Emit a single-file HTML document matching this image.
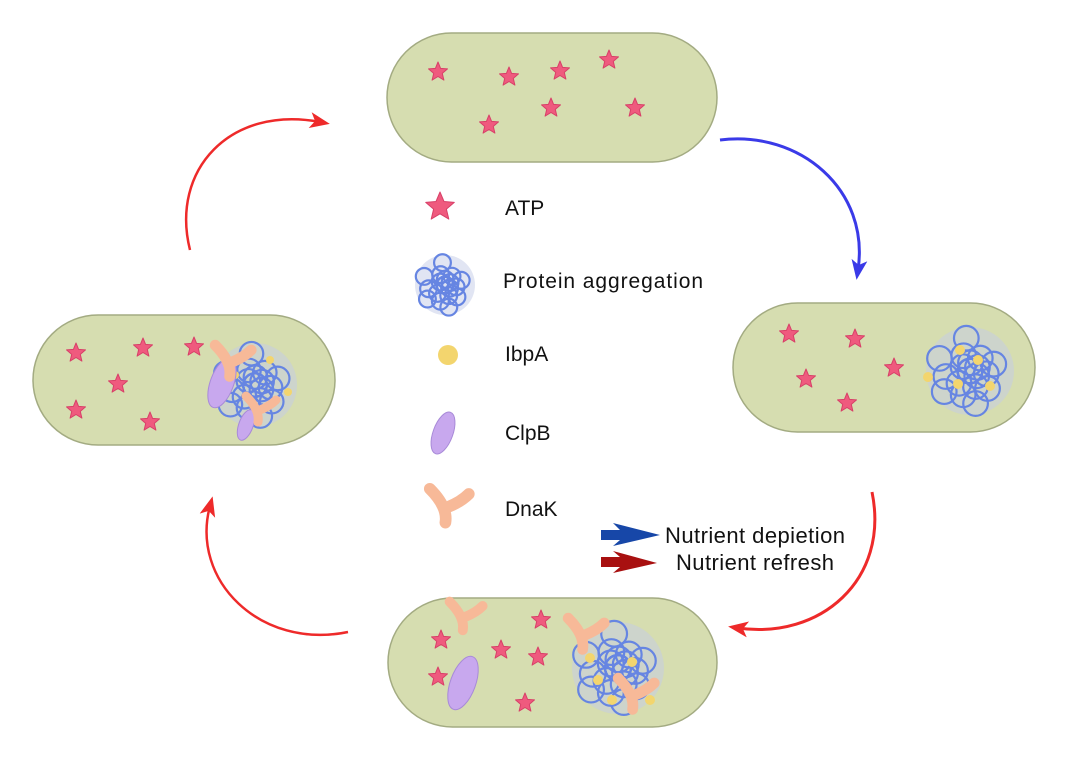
<!DOCTYPE html>
<html><head><meta charset="utf-8"><style>
html,body{margin:0;padding:0;background:#fff;}
svg{display:block;font-family:"Liberation Sans",sans-serif;}
</style></head><body>
<svg id="s" width="1087" height="781" viewBox="0 0 1087 781">
<defs>
<marker id="ar" markerWidth="20" markerHeight="20" refX="10" refY="10" orient="auto" markerUnits="userSpaceOnUse" viewBox="0 0 20 20"><path d="M0,2 L20,10 L0,18 L5,10z" fill="#ee2a2a"/></marker>
<marker id="ab" markerWidth="20" markerHeight="20" refX="10" refY="10" orient="auto" markerUnits="userSpaceOnUse" viewBox="0 0 20 20"><path d="M0,2 L20,10 L0,18 L5,10z" fill="#3a3ae8"/></marker>
</defs>
<g id="cells"></g>
<path d="M190,250 C170,170 230,105 320,122" fill="none" stroke="#ee2a2a" stroke-width="2.5" marker-end="url(#ar)"/>
<path d="M720,140 C800,130 870,190 858,270" fill="none" stroke="#3a3ae8" stroke-width="3" marker-end="url(#ab)"/>
<path d="M872,492 C890,580 820,640 738,628" fill="none" stroke="#ee2a2a" stroke-width="3" marker-end="url(#ar)"/>
<path d="M348,632 C260,650 190,580 210,506" fill="none" stroke="#ee2a2a" stroke-width="2.5" marker-end="url(#ar)"/>
<g id="items"></g>
<g font-size="21" fill="#111">
<text x="505" y="215">ATP</text>
<text x="503" y="288" textLength="200">Protein aggregation</text>
<text x="505" y="361">IbpA</text>
<text x="505" y="440">ClpB</text>
<text x="505" y="516">DnaK</text>
<path d="M601,530 L620,530 L613,523 L660,535 L613,546 L620,540 L601,540z" fill="#1747a8"/>
<path d="M601,557 L620,557 L613,551 L657,563 L613,573 L620,567 L601,567z" fill="#a81010"/>
<text x="665" y="543" font-size="22" textLength="180">Nutrient depietion</text>
<text x="676" y="570" font-size="22" textLength="158">Nutrient refresh</text>
</g>
</svg>
<script>
const NS="http://www.w3.org/2000/svg";
const cellsG=document.getElementById('cells'), itemsG=document.getElementById('items');
function mk(tag,attrs,parent){const e=document.createElementNS(NS,tag);for(const k in attrs)e.setAttribute(k,attrs[k]);parent.appendChild(e);return e;}
const cells=[["cell-top",387,33,330,129],["cell-right",733,303,302,129],["cell-left",33,315,302,130],["cell-bottom",388,598,329,129]];
cells.forEach(c=>{const r=mk('rect',{x:c[1],y:c[2],width:c[3],height:c[4],rx:c[4]/2,fill:'#d6ddb0',stroke:'#a3ab82','stroke-width':1.5},cellsG);

});
function star(x,y,s){let p=[];for(let i=0;i<10;i++){const a=-Math.PI/2+i*Math.PI/5,r=i%2?s*0.45:s;p.push((x+r*Math.cos(a)).toFixed(1)+','+(y+r*Math.sin(a)).toFixed(1));}
const e=mk('polygon',{points:p.join(' '),fill:'#ef5a7e',stroke:'#d84068','stroke-width':1,'stroke-linejoin':'round'},itemsG);

}
function blob(x,y,r){const g=mk('g',{},itemsG);


mk('circle',{cx:x,cy:y,r:r,fill:'#c3cbe8',opacity:0.5},g);
for(let i=0;i<22;i++){const a=i*2.3,d=r*0.75*((i*7)%5)/4;mk('circle',{cx:x+d*Math.cos(a),cy:y+d*Math.sin(a),r:r*0.28,fill:'none',stroke:'#6685e2','stroke-width':2.2},g);}}
function dot(x,y,r){const e=mk('circle',{cx:x,cy:y,r:r||5,fill:'#f3d56e'},itemsG);

}
function clpb(x,y,s){const e=mk('ellipse',{cx:x,cy:y,rx:9*s,ry:20*s,fill:'#c8a8ee',stroke:'#a88ad8',transform:`rotate(20 ${x} ${y})`},itemsG);

}
function dnak(x,y,s){const e=mk('path',{d:`M${x-14*s},${y-14*s} Q${x},${y} ${x-2*s},${y+12*s} M${x},${y} Q${x+10*s},${y-4*s} ${x+16*s},${y-10*s}`,fill:'none',stroke:'#f7b998','stroke-width':9*s,'stroke-linecap':'round'},itemsG);

}
[[438,72],[509,77],[560,71],[609,60],[635,108],[551,108],[489,125],
 [789,334],[855,339],[806,379],[894,368],[847,403],
 [76,353],[143,348],[194,347],[118,384],[76,410],[150,422],
 [441,640],[541,620],[501,650],[538,657],[438,677],[525,703]].forEach(p=>star(p[0],p[1],10));
star(440,207,15);
blob(970,371,44);[[960,350],[928,377],[958,384],[990,386],[978,360]].forEach(p=>dot(p[0],p[1],5));
blob(255,385,42);[[235,375],[288,392],[270,360]].forEach(p=>dot(p[0],p[1],4));
clpb(222,383,1.3);clpb(246,425,0.8);dnak(232,362,1.2);dnak(260,410,1);
blob(618,668,46);[[632,662],[598,680],[612,700],[650,700],[590,658]].forEach(p=>dot(p[0],p[1],5));
dnak(465,617,1.1);dnak(585,635,1.2);dnak(635,695,1.2);clpb(463,683,1.4);
blob(445,285,30);dot(448,355,10);clpb(443,433,1.1);dnak(448,507,1.3);
</script>
</body></html>
